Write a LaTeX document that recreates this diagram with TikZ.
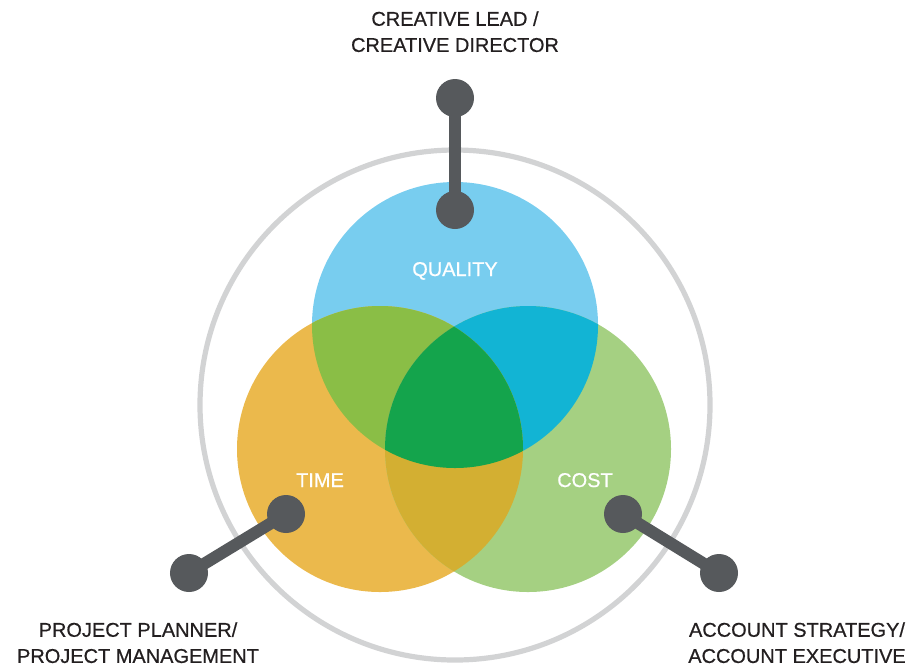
\documentclass[tikz,border=0pt]{standalone}
\usepackage{fontspec}
\setmainfont{Liberation Sans}
\newfontfamily\labelfont[FakeBold=0.6]{Liberation Sans}
\usetikzlibrary{positioning}

\definecolor{qualityblue}{RGB}{120,205,239}
\definecolor{timeorange}{RGB}{235,185,76}
\definecolor{costgreen}{RGB}{165,208,130}
\definecolor{qtgreen}{RGB}{138,190,70}
\definecolor{qcteal}{RGB}{18,180,212}
\definecolor{tcochre}{RGB}{211,175,50}
\definecolor{allgreen}{RGB}{20,164,76}
\definecolor{pingray}{RGB}{86,89,92}
\definecolor{ringgray}{RGB}{210,211,212}
\definecolor{inkgray}{RGB}{35,31,32}

\tikzset{
  pin dot/.style={circle,fill=pingray,draw=none,inner sep=0pt,minimum size=0.95cm},
  pin stick/.style={draw=pingray,line width=0.3cm},
  role/.style={text=inkgray,inner sep=0pt,align=center,font=\labelfont\fontsize{14.2}{18.6}\selectfont},
  area/.style={text=white,inner sep=0pt,font=\labelfont\fontsize{14.2}{17}\selectfont}
}
\newcommand{\qualitydisc}{(455,325) circle (143)}
\newcommand{\timedisc}{(380,449) circle (143)}
\newcommand{\costdisc}{(528,449) circle (143)}

\begin{document}
\begin{tikzpicture}[x=0.025cm,y=-0.025cm]
\useasboundingbox (0,0) rectangle (911,667);
% outer ring
\draw[ringgray,line width=0.13cm] (455,405) circle (255);
% the three discs
\fill[qualityblue] \qualitydisc;
\fill[timeorange] \timedisc;
\fill[costgreen] \costdisc;
% pairwise overlaps
\begin{scope}
\clip \qualitydisc;
\fill[qtgreen] \timedisc;
\fill[qcteal] \costdisc;
\end{scope}
\begin{scope}
\clip \timedisc;
\fill[tcochre] \costdisc;
\end{scope}
% centre, all three
\begin{scope}
\clip \qualitydisc;
\clip \timedisc;
\fill[allgreen] \costdisc;
\end{scope}
% disc labels
\node[area,anchor=base] (quality) at (455,276) {QUALITY};
\node[area,anchor=base] (time) at (320,487) {TIME};
\node[area,anchor=base] (cost) at (585,487) {COST};
% pins
\node[pin dot] (creativein) at (455,210) {};
\node[pin dot] (creativeout) at (455,98) {};
\node[pin dot] (plannerin) at (286,514) {};
\node[pin dot] (plannerout) at (189,573) {};
\node[pin dot] (accountin) at (623,514) {};
\node[pin dot] (accountout) at (719,573) {};
\draw[pin stick] (creativein.center) -- (creativeout.center);
\draw[pin stick] (plannerin.center) -- (plannerout.center);
\draw[pin stick] (accountin.center) -- (accountout.center);
% role labels
\node[role,anchor=north] (creative) at (455,11) {CREATIVE LEAD /\\CREATIVE DIRECTOR};
\node[role,anchor=north] (planner) at (138,622) {PROJECT PLANNER/\\PROJECT MANAGEMENT};
\node[role,anchor=north] (account) at (797,622) {ACCOUNT STRATEGY/\\ACCOUNT EXECUTIVE};
\end{tikzpicture}
\end{document}
